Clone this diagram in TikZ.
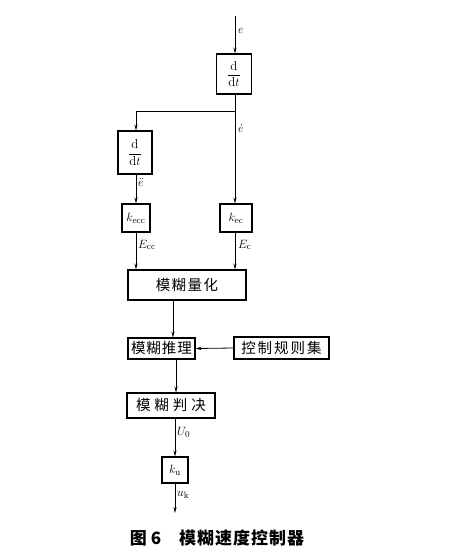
\documentclass[tikz,border=0pt]{standalone}
\usepackage{fontspec}
\newfontfamily\cjk{Noto Sans CJK SC}
\usetikzlibrary{arrows.meta,calc}
\begin{document}
\begin{tikzpicture}[x=1pt,y=-1pt,
  blk/.style={draw,line width=1.1pt,inner sep=0pt,align=center,font=\fontsize{13}{14}\selectfont},
  cn/.style={blk,font=\cjk\fontsize{14.5}{16}\selectfont},
  wire/.style={line width=0.8pt},
  arr/.style={wire,-{Stealth[length=6pt,width=3.2pt]}},
  lab/.style={anchor=west,inner sep=1pt,font=\fontsize{13}{14}\selectfont}]
\useasboundingbox (0,0) rectangle (452,558);
\coordinate (in) at (235,16);
\node[blk,minimum width=35,minimum height=40] (dt1) at (234,74) {$\displaystyle\frac{\mathrm{d}}{\mathrm{d}t}$};
\coordinate (br) at (235,111);
\coordinate (bl) at (136,111);
\node[blk,minimum width=34,minimum height=43] (dt2) at (135,152.5) {$\displaystyle\frac{\mathrm{d}}{\mathrm{d}t}$};
\node[blk,minimum width=28,minimum height=28] (kecc) at (136,218) {$k_{\mathrm{ecc}}$};
\node[blk,minimum width=32,minimum height=28] (kec) at (236,218) {$k_{\mathrm{ec}}$};
\node[cn,minimum width=118,minimum height=30] (lh) at (187,285) {模\hspace{1.5pt}糊\hspace{1.5pt}量\hspace{1.5pt}化};
\coordinate (c1) at (173,0);
\node[cn,minimum width=67,minimum height=21] (tl) at (161.5,348.5) {模\hspace{1pt}糊\hspace{1pt}推\hspace{1pt}理};
\node[cn,minimum width=95,minimum height=22] (gz) at (281.5,348) {控\hspace{2pt}制\hspace{2pt}规\hspace{2pt}则\hspace{2pt}集};
\coordinate (c2) at (176,0);
\node[cn,minimum width=88,minimum height=25] (pj) at (171,405.5) {模\hspace{4pt}糊\hspace{4pt}判\hspace{4pt}决};
\node[blk,minimum width=26,minimum height=26] (ku) at (175,470) {$k_{\mathrm{u}}$};
\coordinate (out) at (175,513);
% connectors
\draw[arr] (in) -- (dt1.north -| in);
\draw[wire] (dt1.south -| br) -- (br) -- (bl);
\draw[arr] (bl) -- (dt2.north -| bl);
\draw[arr] (br) -- (kec.north -| br);
\draw[arr] (dt2.south -| kecc) -- (kecc.north);
\draw[arr] (kecc.south) -- (lh.north -| kecc);
\draw[arr] (kec.south -| br) -- (lh.north -| br);
\draw[arr] (lh.south -| c1) -- (tl.north -| c1);
\draw[arr] (gz.west) -- (tl.east);
\draw[arr] (tl.south -| c2) -- (pj.north -| c2);
\draw[arr] (pj.south -| ku) -- (ku.north);
\draw[arr] (ku.south) -- (out);
% labels
\node[lab] (le) at (237,31) {$e$};
\node[lab] (led) at (237,129) {$\dot{e}$};
\node[lab] (ledd) at (137,183) {$\ddot{e}$};
\node[lab] (lecc) at (137,245) {$E_{\mathrm{cc}}$};
\node[lab] (lec) at (237,245) {$E_{\mathrm{c}}$};
\node[lab] (lu0) at (176,432) {$U_0$};
\node[lab] (luk) at (176,495) {$u_{\mathrm{k}}$};
\node[font=\cjk\bfseries\fontsize{17}{18}\selectfont] (cap) at (217,538) {图\hspace{4pt}6\hspace{18pt}模\hspace{1pt}糊\hspace{1pt}速\hspace{1pt}度\hspace{1pt}控\hspace{1pt}制\hspace{1pt}器};
\end{tikzpicture}
\end{document}
